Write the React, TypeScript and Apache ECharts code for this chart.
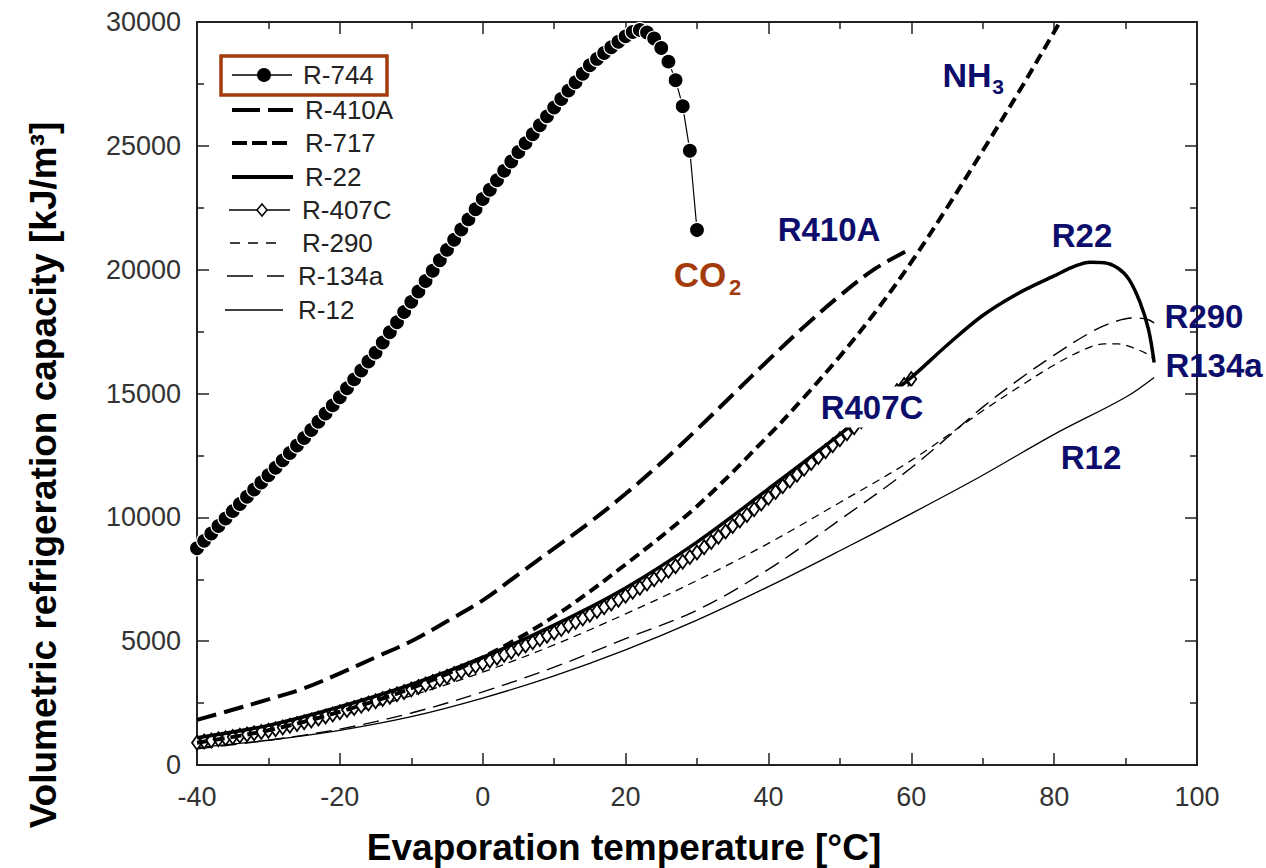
import React, { useEffect, useRef } from "react";
import * as echarts from "echarts";

// ---------- data ----------
const T_CO2 = [-40,-39,-38,-37,-36,-35,-34,-33,-32,-31,-30,-29,-28,-27,-26,-25,-24,-23,-22,-21,-20,-19,-18,-17,-16,-15,-14,-13,-12,-11,-10,-9,-8,-7,-6,-5,-4,-3,-2,-1,0,1,2,3,4,5,6,7,8,9,10,11,12,13,14,15,16,17,18,19,20,21,22,23,24,25,26,27,28,29,30];
const V_CO2 = [8750,9050,9350,9650,9950,10250,10540,10830,11120,11410,11700,12000,12300,12600,12900,13200,13530,13860,14190,14520,14850,15210,15570,15930,16290,16650,17060,17470,17880,18290,18700,19120,19540,19960,20380,20800,21210,21620,22030,22440,22850,23230,23610,23990,24370,24750,25110,25470,25830,26190,26550,26890,27230,27570,27910,28250,28510,28750,28980,29200,29420,29600,29680,29580,29330,28950,28400,27650,26600,24800,21600];

const T_R410A = [-40,-35,-30,-25,-20,-15,-10,-5,0,5,10,15,20,25,30,35,40,45,50,55,60];
const V_R410A = [1820,2230,2650,3100,3700,4350,5000,5800,6650,7700,8750,9800,10950,12200,13550,14950,16350,17700,18950,20050,20850];

const T_R717 = [-40,-30,-20,-10,0,10,20,30,40,45,50,55,60,65,70,75,80,80.8];
const V_R717 = [900,1400,2150,3100,4350,6000,8100,10450,13300,14850,16500,18300,20300,22500,24800,27150,29600,30000];

const T_R22 = [-40,-30,-20,-10,0,10,20,30,40,50,60,65,70,75,80,83,85,87,89,90.5,92,93.2,94];
const V_R22 = [1100,1600,2350,3250,4350,5650,7150,9000,11150,13350,15650,16950,18150,19050,19750,20150,20300,20280,20050,19600,18700,17600,16250];

const T_R407C = [-40,-39,-38,-37,-36,-35,-34,-33,-32,-31,-30,-29,-28,-27,-26,-25,-24,-23,-22,-21,-20,-19,-18,-17,-16,-15,-14,-13,-12,-11,-10,-9,-8,-7,-6,-5,-4,-3,-2,-1,0,1,2,3,4,5,6,7,8,9,10,11,12,13,14,15,16,17,18,19,20,21,22,23,24,25,26,27,28,29,30,31,32,33,34,35,36,37,38,39,40,41,42,43,44,45,46,47,48,49,50,51,52,53,54,55,56,57,58,59,60];
const V_R407C = [900,945,990,1035,1080,1130,1180,1230,1280,1330,1380,1445,1512,1581,1652,1725,1800,1877,1956,2040,2130,2218,2306,2395,2485,2576,2668,2761,2855,2950,3050,3150,3252,3355,3459,3564,3670,3777,3885,3994,4100,4216,4334,4454,4576,4700,4826,4954,5084,5216,5350,5489,5630,5773,5918,6065,6214,6365,6518,6673,6830,6992,7157,7325,7496,7670,7847,8027,8210,8396,8585,8790,9000,9213,9429,9648,9870,10095,10323,10554,10788,11020,11253,11487,11722,11958,12195,12433,12672,12912,13153,13394,13636,13879,14122,14366,14610,14854,15098,15342,15586];

const T_R290 = [-40,-30,-20,-10,0,10,20,30,40,50,60,70,75,80,84,87,89,91,93,94];
const V_R290 = [1000,1400,2000,2800,3750,4850,6100,7450,8950,10600,12300,14300,15250,16150,16750,17000,17000,16850,16600,16400];

const T_R134A = [-40,-30,-20,-10,0,10,20,30,40,50,60,70,75,80,85,88,91,93,94];
const V_R134A = [650,1000,1450,2100,2950,3950,5100,6250,7900,9900,12000,14450,15550,16550,17450,17850,18050,18000,17850];

const T_R12 = [-40,-30,-20,-10,0,10,20,30,40,50,60,70,80,90,94];
const V_R12 = [700,1000,1400,1950,2700,3600,4650,5850,7200,8650,10150,11700,13350,14850,15650];

const X_TICKS = { min: -40, max: 100, interval: 20 };
const Y_TICKS = { min: 0, max: 30000, interval: 5000 };

const LEGEND_NAMES = ["R-744", "R-410A", "R-717", "R-22", "R-407C", "R-290", "R-134a", "R-12"];

const zip = (t: number[], v: number[]) => t.map((x, i) => [x, v[i]]);

const FONT = "'Liberation Sans', Arial, Helvetica, sans-serif";
const NAVY = "#0d0d6b";
const BROWN = "#a33b0d";
const AXIS = "#222";

export default function App() {
  const ref = useRef<HTMLDivElement>(null);

  useEffect(() => {
    const chart = echarts.init(ref.current!, null, { renderer: "svg" });

    const axisCommon = {
      type: "value" as const,
      axisLine: { show: true, onZero: false, lineStyle: { color: AXIS, width: 2 } },
      axisTick: { show: true, inside: true, length: 12, lineStyle: { color: AXIS, width: 1.5 } },
      minorTick: { show: true, splitNumber: 2, length: 7, lineStyle: { color: AXIS, width: 1.5 } },
      splitLine: { show: false },
      minorSplitLine: { show: false },
    };
    const labelStyle = { fontSize: 27, color: "#333", fontFamily: FONT, formatter: (v: number) => String(v) };

    const line = (name: string, data: number[][], width: number, dash: any, extra: any = {}) => ({
      name,
      type: "line",
      data,
      symbol: "none",
      smooth: 0.35,
      lineStyle: { color: "#000", width, type: dash },
      z: 3,
      ...extra,
    });

    // legend graphics
    const rowY = [75, 110, 143, 177, 210, 243, 276, 310];
    const textX = [303, 305, 305, 305, 302, 302, 298, 298];
    const g: any[] = [];
    g.push({ type: "rect", shape: { x: 221, y: 56, width: 166, height: 39 }, style: { fill: "none", stroke: BROWN, lineWidth: 3.5 }, z: 10 });
    g.push({ type: "line", shape: { x1: 232, y1: rowY[0], x2: 292, y2: rowY[0] }, style: { stroke: "#000", lineWidth: 1.3 }, z: 10 });
    g.push({ type: "circle", shape: { cx: 264, cy: rowY[0], r: 7 }, style: { fill: "#000" }, z: 11 });
    g.push({ type: "line", shape: { x1: 232, y1: rowY[1], x2: 293, y2: rowY[1] }, style: { stroke: "#000", lineWidth: 4, lineDash: [28, 8] }, z: 10 });
    g.push({ type: "line", shape: { x1: 232, y1: rowY[2], x2: 288, y2: rowY[2] }, style: { stroke: "#000", lineWidth: 4, lineDash: [15, 5] }, z: 10 });
    g.push({ type: "line", shape: { x1: 232, y1: rowY[3], x2: 293, y2: rowY[3] }, style: { stroke: "#000", lineWidth: 4 }, z: 10 });
    g.push({ type: "line", shape: { x1: 229, y1: rowY[4], x2: 290, y2: rowY[4] }, style: { stroke: "#000", lineWidth: 1.5 }, z: 10 });
    g.push({ type: "polygon", shape: { points: [[262, rowY[4] - 6], [267, rowY[4]], [262, rowY[4] + 6], [257, rowY[4]]] }, style: { fill: "#fff", stroke: "#000", lineWidth: 1.5 }, z: 11 });
    g.push({ type: "line", shape: { x1: 230, y1: rowY[5], x2: 283, y2: rowY[5] }, style: { stroke: "#000", lineWidth: 1.3, lineDash: [10, 8] }, z: 10 });
    g.push({ type: "line", shape: { x1: 227, y1: rowY[6], x2: 284, y2: rowY[6] }, style: { stroke: "#000", lineWidth: 1.5, lineDash: [26, 14] }, z: 10 });
    g.push({ type: "line", shape: { x1: 225, y1: rowY[7], x2: 283, y2: rowY[7] }, style: { stroke: "#000", lineWidth: 1.3 }, z: 10 });
    LEGEND_NAMES.forEach((n, i) => {
      g.push({ type: "text", x: textX[i], y: rowY[i], style: { text: n, fontSize: 26, fontFamily: FONT, fill: "#222", align: "left", verticalAlign: "middle" }, z: 10 });
    });

    // annotations
    const ann = (text: string, x: number, y: number, color: string, size = 33, extra: any = {}) => ({
      type: "text",
      x,
      y,
      z: 12,
      style: { text, fontSize: size, fontWeight: "bold", fontFamily: FONT, fill: color, align: "center", verticalAlign: "middle", ...extra },
    });
    g.push(ann("NH", 967, 75, NAVY, 34));
    g.push(ann("3", 998, 86, NAVY, 21));
    g.push(ann("CO", 700, 274, BROWN, 35));
    g.push(ann("2", 735, 287, BROWN, 22));
    g.push(ann("R410A", 829, 229, NAVY));
    g.push(ann("R22", 1082, 235, NAVY));
    g.push(ann("R290", 1204, 316, NAVY));
    g.push(ann("R134a", 1214, 365, NAVY));
    g.push(ann("R407C", 872, 407, NAVY, 33, { backgroundColor: "#fff", padding: [4, 2, 4, 2] }));
    g.push(ann("R12", 1091, 457, NAVY));

    // axis titles
    g.push({ type: "text", x: 624, y: 847, z: 12, style: { text: "Evaporation temperature [°C]", fontSize: 37, fontWeight: "bold", fontFamily: FONT, fill: "#000", align: "center", verticalAlign: "middle" } });
    g.push({ type: "text", x: 43, y: 475, rotation: Math.PI / 2, z: 12, style: { text: "Volumetric refrigeration capacity [kJ/m³]", fontSize: 37, fontWeight: "bold", fontFamily: FONT, fill: "#000", align: "center", verticalAlign: "middle" } });

    const option: any = {
      animation: false,
      backgroundColor: "#fff",
      grid: { left: 197, top: 22, width: 1000, height: 743, containLabel: false },
      xAxis: [
        { ...axisCommon, ...X_TICKS, position: "bottom", axisLabel: { ...labelStyle, margin: 18 } },
        { ...axisCommon, ...X_TICKS, position: "top", axisLabel: { show: false } },
      ],
      yAxis: [
        { ...axisCommon, ...Y_TICKS, position: "left", axisLabel: { ...labelStyle, margin: 16 } },
        { ...axisCommon, ...Y_TICKS, position: "right", axisLabel: { show: false } },
      ],
      series: [
        line("R-12", zip(T_R12, V_R12), 1.3, "solid"),
        line("R-134a", zip(T_R134A, V_R134A), 1.4, [16, 8]),
        line("R-290", zip(T_R290, V_R290), 1.3, [8, 6]),
        {
          name: "R-407C",
          type: "line",
          data: zip(T_R407C, V_R407C),
          symbol: "diamond",
          symbolSize: [10, 14],
          showAllSymbol: true,
          itemStyle: { color: "#fff", borderColor: "#000", borderWidth: 1.8 },
          lineStyle: { color: "#000", width: 1 },
          z: 4,
        },
        line("R-22", zip(T_R22, V_R22), 3.5, "solid", { z: 5 }),
        line("R-717", zip(T_R717, V_R717), 4, [11, 6], { z: 5 }),
        line("R-410A", zip(T_R410A, V_R410A), 4, [20, 8], { z: 5 }),
        {
          name: "R-744",
          type: "line",
          data: zip(T_CO2, V_CO2),
          symbol: "circle",
          symbolSize: 15,
          showAllSymbol: true,
          itemStyle: { color: "#000", borderColor: "#fff", borderWidth: 1.2 },
          lineStyle: { color: "#000", width: 1.2 },
          z: 6,
        },
      ],
      graphic: g,
    };

    chart.setOption(option);
    return () => chart.dispose();
  }, []);

  return (
    <div
      ref={ref}
      style={{ position: "fixed", left: 0, top: 0, width: 1266, height: 868, background: "#fff" }}
    />
  );
}
